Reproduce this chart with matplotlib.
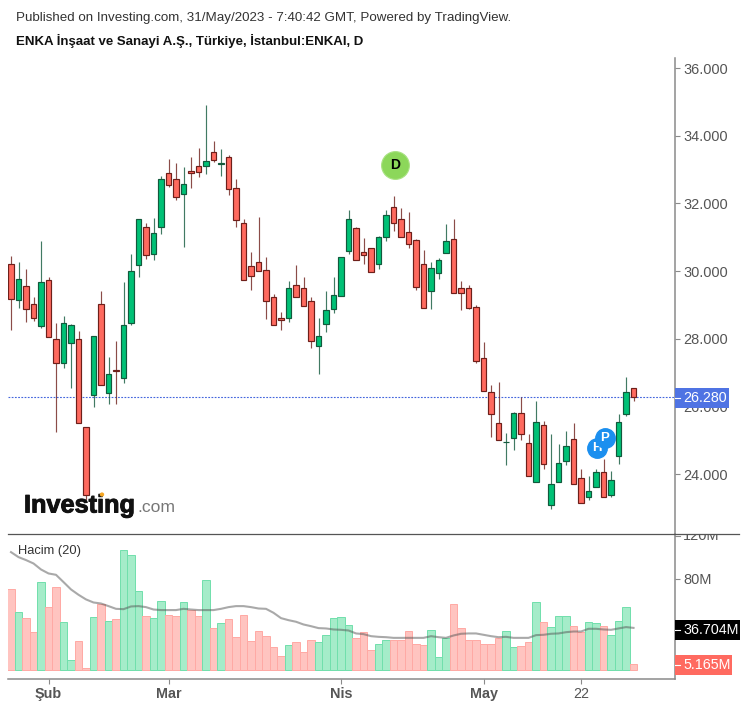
import matplotlib
matplotlib.use("Agg")
import matplotlib.pyplot as plt
import matplotlib.patheffects as pe
from matplotlib.patches import Rectangle, Circle
from matplotlib.lines import Line2D
from matplotlib.transforms import Bbox

plt.rcParams['font.family'] = ['Liberation Sans', 'DejaVu Sans']

opens = [30.20,29.14,29.57,29.02,28.37,29.72,27.98,27.29,27.88,27.98,25.39,26.34,29.02,26.38,27.07,26.85,28.47,30.18,31.30,30.51,
         31.29,32.89,32.71,32.29,32.97,33.11,33.09,33.52,33.17,33.37,32.44,31.41,30.15,30.26,30.04,29.23,28.60,28.62,29.60,29.49,
         29.12,27.77,28.44,28.89,29.26,30.58,31.26,30.56,30.67,30.21,31.02,31.88,31.55,31.14,30.93,30.20,29.40,29.95,30.54,30.96,
         29.49,29.49,28.93,27.42,26.41,25.50,24.94,25.05,25.79,24.91,23.75,25.46,23.08,23.75,24.37,25.02,23.87,23.33,23.61,24.05,
         23.38,24.53,25.78,26.53]
closes = [29.18,29.76,28.89,28.62,29.68,28.04,27.29,28.45,28.39,25.52,23.38,28.09,26.63,26.95,27.03,28.39,30.01,31.53,30.47,31.11,
          32.71,32.54,32.18,32.56,32.91,32.94,33.26,33.28,33.19,32.42,31.51,29.73,29.84,29.99,29.10,28.40,28.54,29.49,29.22,28.96,
          27.92,28.08,28.86,29.30,30.41,31.53,30.33,30.47,29.96,31.00,31.67,31.43,31.02,30.81,29.54,28.91,30.08,30.34,30.88,29.36,
          29.36,28.91,27.33,26.44,25.78,25.01,24.95,25.79,25.19,23.93,25.54,24.31,23.69,24.32,24.83,23.71,23.15,23.50,24.05,23.31,
          23.83,25.54,26.41,26.28]
highs = [30.45,30.28,30.05,29.24,30.90,29.83,28.45,28.68,28.43,28.24,25.39,28.09,29.42,27.47,27.94,29.69,30.49,31.53,31.41,31.57,
         32.82,33.31,33.18,33.08,33.38,33.64,34.90,33.85,33.60,33.42,32.71,31.53,30.56,31.61,30.41,29.31,28.79,29.71,30.17,29.83,
         29.24,28.60,29.42,29.83,30.41,31.79,31.31,30.97,30.67,31.04,31.79,32.22,31.85,31.75,30.96,30.61,30.27,30.38,31.39,31.55,
         29.71,29.60,29.01,27.91,26.62,26.73,25.20,25.82,26.28,25.17,26.17,25.58,25.17,24.88,25.28,25.50,24.14,23.95,24.14,24.43,
         24.10,25.76,26.88,26.53]
lows = [28.26,28.92,28.50,28.53,28.33,28.04,25.25,27.14,26.55,25.52,23.23,25.99,26.63,26.07,26.07,26.70,28.40,29.83,30.36,30.32,
        31.09,32.49,32.09,30.72,32.46,32.79,32.87,33.23,32.82,32.24,31.31,29.73,29.44,29.99,28.58,28.40,28.26,28.50,29.22,28.96,
        27.73,26.96,28.21,28.77,29.26,30.50,30.33,30.21,29.96,30.05,30.90,31.19,31.02,30.69,29.43,28.91,28.87,29.75,30.54,29.36,
        28.84,28.87,27.29,26.44,25.10,25.01,24.26,24.70,25.00,23.93,23.75,24.16,22.98,23.75,24.26,23.71,23.15,23.22,23.61,23.31,
        23.31,24.30,25.70,26.17]
volumes = [70.6,50.6,45.0,32.9,77.4,55.0,72.6,41.8,8.5,25.3,0.9,46.2,58.2,42.9,44.1,105.6,101.2,69.4,47.4,45.0,
           60.6,48.2,47.4,59.4,52.9,47.4,79.1,36.2,40.6,44.1,28.5,48.2,25.3,34.1,29.7,19.7,12.1,21.8,24.1,15.3,
           26.2,24.1,30.6,45.0,46.2,39.4,27.4,32.9,17.4,22.9,26.2,26.2,26.2,34.1,22.9,21.8,35.0,10.9,27.4,58.2,
           36.2,26.2,26.2,22.9,22.9,27.4,34.1,19.7,20.9,24.1,59.4,41.8,37.4,47.4,47.4,38.5,32.9,41.8,40.6,38.5,
           30.6,42.9,55.0,5.165]
volume_ma = [103.5,99.1,96.5,93.5,88.2,84.7,83.5,77.1,70.6,65.9,61.8,59.1,58.2,55.9,53.5,53.2,55.6,55.9,55.0,52.9,
             52.4,52.4,52.4,53.5,52.9,52.4,52.4,52.4,53.5,55.0,55.9,55.9,55.0,53.8,53.5,50.0,45.3,43.5,42.1,39.7,
             38.2,36.5,36.2,35.3,35.0,34.4,31.8,31.2,29.4,28.8,28.5,27.9,27.9,27.9,27.9,27.9,29.4,28.5,27.9,30.0,
             31.5,31.8,31.8,30.6,29.4,28.5,28.8,27.9,27.9,27.9,30.3,30.6,31.5,31.8,32.9,33.5,33.5,35.9,35.9,35.3,
             35.0,36.2,37.4,36.7]
price_ticks = [24, 26, 28, 30, 32, 34, 36]
volume_ticks = [80]
volume_top_tick = 120
month_ticks = [5, 21, 44, 63, 76]
month_labels = ['Şub', 'Mar', 'Nis', 'May', '22']
month_bold = [True, True, True, True, False]
last_price = 26.28
last_volume = 5.165
last_volume_ma = 36.704
event_markers = [('D', 51.2, 33.13), ('H', 78.1, 24.77), ('P', 79.2, 25.06)]

W, H = 746, 707
fig = plt.figure(figsize=(W / 100, H / 100), dpi=100, facecolor='white')

def fx(x): return x / W
def fy(y): return 1 - y / H
def box(l, t, r, b): return [fx(l), fy(b), (r - l) / W, (b - t) / H]

ax = fig.add_axes(box(8, 58, 675, 534))
vax = fig.add_axes(box(8, 534, 675, 679), sharex=ax)

n = len(opens)
xs = list(range(n))
RED, GREEN = '#ff6a5f', '#00c176'
REDE, GREENE = '#6e1f1a', '#12593c'
edge = [GREENE if c >= o else REDE for o, c in zip(opens, closes)]
fill = [GREEN if c >= o else RED for o, c in zip(opens, closes)]

ax.vlines(xs, lows, highs, colors=edge, lw=0.85, zorder=2, alpha=0.8)
ax.bar(xs, [max(abs(c - o), 0.02) for o, c in zip(opens, closes)],
       bottom=[min(o, c) for o, c in zip(opens, closes)],
       width=0.72, color=fill, edgecolor=edge, linewidth=0.85, zorder=3)

ax.axhline(last_price, color='#4466dd', lw=0.8, ls=(0, (1.6, 1.3)), zorder=1)
ax.set_xlim(-0.4, 88.53)
ax.set_ylim(24 - 60 / 33.83, 24 + 416 / 33.83)

vcol = ['#a5ecc9' if c >= o else '#ffc4c0' for o, c in zip(opens, closes)]
vedge = ['#71dfac' if c >= o else '#ffa9a4' for o, c in zip(opens, closes)]
vax.bar(xs, volumes, width=0.95, color=vcol, edgecolor=vedge, linewidth=0.7, zorder=2)
vax.plot(xs, volume_ma, color='#555555', alpha=0.5, lw=1.5, zorder=3)
vax.set_ylim(-9.5 / 1.134, 135.5 / 1.134)

TXT = '#555555'
AX = '#8a8a8a'
for a in (ax, vax):
    a.set_facecolor('white')
    for s in ('top', 'left', 'bottom'):
        a.spines[s].set_visible(False)
    a.spines['right'].set_color(AX)
    a.spines['right'].set_linewidth(1.1)
    a.yaxis.tick_right()

ax.set_yticks(price_ticks)
ax.set_yticklabels([f'{v:.3f}' for v in price_ticks], fontsize=10.45, color=TXT)
ax.tick_params(axis='y', length=3.6, width=0.8, color=AX, pad=2.4)
ax.tick_params(axis='x', length=0, labelbottom=False)

vax.set_yticks(volume_ticks)
vax.set_yticklabels([f'{v}M' for v in volume_ticks], fontsize=10.45, color=TXT)
vax.tick_params(axis='y', length=3.6, width=0.8, color=AX, pad=2.4)
vax.spines['bottom'].set_visible(True)
vax.spines['bottom'].set_color(AX)
vax.spines['bottom'].set_linewidth(1.1)

vax.set_xticks(month_ticks)
vax.set_xticklabels(month_labels, fontsize=10.4, color=TXT)
for lab, b in zip(vax.get_xticklabels(), month_bold):
    lab.set_fontweight('bold' if b else 'normal')
vax.tick_params(axis='x', length=3.6, width=0.8, color=AX, pad=2)

# 120M label clipped by pane separator
t120 = fig.text(fx(683), fy(536.5), f'{volume_top_tick}M', fontsize=10.45, color=TXT,
                va='center', ha='left', zorder=6)
t120.set_clip_on(True)
t120.set_clip_box(Bbox.from_extents(670, H - 700, 746, H - 534.5))
fig.add_artist(Line2D([fx(675), fx(680)], [fy(536)] * 2, color=AX, lw=0.8, zorder=5))

# pane separator
fig.add_artist(Line2D([fx(8), fx(739)], [fy(534)] * 2, color='#555555', lw=0.9, zorder=5))

def tag(top, bottom, right, color, text, ytext):
    fig.add_artist(Rectangle((fx(675), fy(bottom)), (right - 675) / W, (bottom - top) / H,
                             transform=fig.transFigure, facecolor=color, edgecolor='none', zorder=5))
    fig.add_artist(Line2D([fx(675), fx(680)], [fy(ytext)] * 2, color='white', lw=0.8, zorder=6))
    fig.text(fx(683), fy(ytext), text, color='white', fontsize=10.3, va='center', ha='left', zorder=7)

tag(388, 408, 729, '#4f73e3', f'{last_price:.3f}', 398)
tag(620, 640, 739.5, '#000000', f'{last_volume_ma:.3f}M', 630)
tag(655, 675, 732, '#ff6a60', f'{last_volume:.3f}M', 665)

# markers
for letter, xm, ym in event_markers:
    if letter == 'D':
        ax.plot([xm], [ym], 'o', ms=20, mfc='#8cd75a', mec='#a9e283', mew=0.8, zorder=6, clip_on=False)
        ax.text(xm, ym, letter, color='black', fontsize=10, fontweight='bold', ha='center', va='center', zorder=7)
    else:
        ax.plot([xm], [ym], 'o', ms=14, mfc='#1b8fef', mec='#1b8fef', zorder=6)
        ax.text(xm, ym, letter, color='white', fontsize=9.5, fontweight='bold', ha='center', va='center', zorder=6)

# header
fig.text(fx(16), fy(18), 'Published on Investing.com, 31/May/2023 - 7:40:42 GMT, Powered by TradingView.',
         fontsize=9.6, color='#333333', va='center', ha='left')
fig.text(fx(16), fy(40.5), 'ENKA İnşaat ve Sanayi A.Ş., Türkiye, İstanbul:ENKAI, D',
         fontsize=9.5, fontweight='bold', color='#111111', va='center', ha='left')
fig.text(fx(18), fy(551), 'Hacim (20)', fontsize=9.3, color='#333333', va='center', ha='left', zorder=6)

# logo
logo = fig.text(fx(24), fy(505.5), 'Investing', fontsize=18.2, fontweight='bold', color='#111111',
                va='center', ha='left', zorder=6)
logo.set_path_effects([pe.withStroke(linewidth=0.7, foreground='#111111')])
fig.text(fx(137), fy(508), '.com', fontsize=12.6, color='#777777', va='center', ha='left', zorder=6)
fig.add_artist(Circle((fx(102), fy(494.5)), 2.2 / W, transform=fig.transFigure, facecolor='#f5a623',
                      edgecolor='none', zorder=7))

fig.savefig('out.png', dpi=100, facecolor='white')
